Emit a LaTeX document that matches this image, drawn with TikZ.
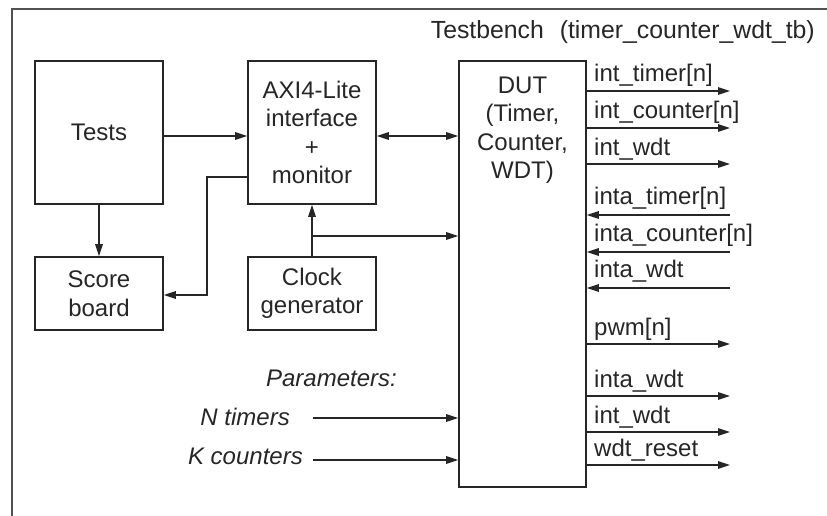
\documentclass[tikz,border=0pt]{standalone}
\usepackage{fontspec}
\setmainfont{Liberation Sans}
\usetikzlibrary{arrows.meta}
\definecolor{ink}{HTML}{262626}
\tikzset{
  wire/.style={draw=ink, line width=1.6pt},
  arr/.style={wire, -{Triangle[length=12pt,width=7.5pt]}},
  biarr/.style={wire, {Triangle[length=12pt,width=7.5pt]}-{Triangle[length=12pt,width=7.5pt]}},
  blk/.style={draw=ink, line width=1.6pt, fill=white, align=center, inner sep=0pt,
              text=ink, font=\fontsize{24}{28.5}\selectfont},
  txt/.style={text=ink, inner sep=0pt, font=\fontsize{24}{28.5}\selectfont},
  sig/.style={txt, anchor=base west},
  par/.style={txt, anchor=east, font=\fontsize{24}{28.5}\selectfont\itshape}
}
\begin{document}
\begin{tikzpicture}[x=1pt,y=-1pt]
\useasboundingbox (0,0) rectangle (827,516);
% testbench frame (open to the right and bottom)
\draw[draw=ink!80, line width=1.6pt] (12,530) -- (12,9) -- (840,9);
\node[txt, anchor=base east, font=\fontsize{24.8}{28.5}\selectfont] (tbname) at (815,39) {Testbench\hspace{9pt} (timer\_counter\_wdt\_tb)};

% blocks
\node[blk, minimum width=128pt, minimum height=143pt] (tests) at (99,132.5) {Tests};
\node[blk, minimum width=128pt, minimum height=143pt] (axi) at (312,132.5) {AXI4-Lite\\interface\\+\\monitor};
\node[blk, minimum width=128pt, minimum height=73pt] (score) at (99,293.5) {Score\\board};
\node[blk, minimum width=128pt, minimum height=73pt] (clk) at (312,293.5) {Clock\\generator};
\node[blk, minimum width=127pt, minimum height=426pt] (dut) at (522.5,274) {};
\node[txt, align=center] (dutlbl) at (522.5,130) {DUT\\(Timer,\\Counter,\\WDT)};

% block connections
\draw[arr] (tests.east |- 0,136) -- (axi.west |- 0,136);
\draw[arr] (tests.south) -- (score.north);
\draw[biarr] (axi.east |- 0,136) -- (dut.west |- 0,136);
\draw[arr] (axi.west |- 0,177) -| (207,295) -- (score.east |- 0,295);
\draw[arr] (clk.north) -- (axi.south);
\coordinate (clkbr) at (clk.north |- 0,236);
\draw[arr] (clkbr) -- (dut.west |- clkbr);

% DUT outputs and inputs
\foreach \y/\name/\t in {91/o1/int\_timer[n], 128/o2/int\_counter[n], 164/o3/int\_wdt,
                         344/o4/pwm[n], 396/o5/inta\_wdt, 432/o6/int\_wdt, 465/o7/wdt\_reset}{
  \coordinate (\name) at (730,\y);
  \draw[arr] (dut.east |- \name) -- (\name);
  \node[sig] at (594,\y-9) {\t};
}
\foreach \y/\name/\t in {215/i1/inta\_timer[n], 252/i2/inta\_counter[n], 288/i3/inta\_wdt}{
  \coordinate (\name) at (730,\y);
  \draw[arr] (\name) -- (dut.east |- \name);
  \node[sig] at (594,\y-11) {\t};
}

% parameters
\node[par] (params) at (397,378) {Parameters:};
\node[par] (ntim) at (290,417) {N timers};
\node[par] (kcnt) at (303,456) {K counters};
\draw[arr] (313,418) coordinate (nstart) -- (dut.west |- nstart);
\draw[arr] (313,460) coordinate (kstart) -- (dut.west |- kstart);
\end{tikzpicture}
\end{document}
